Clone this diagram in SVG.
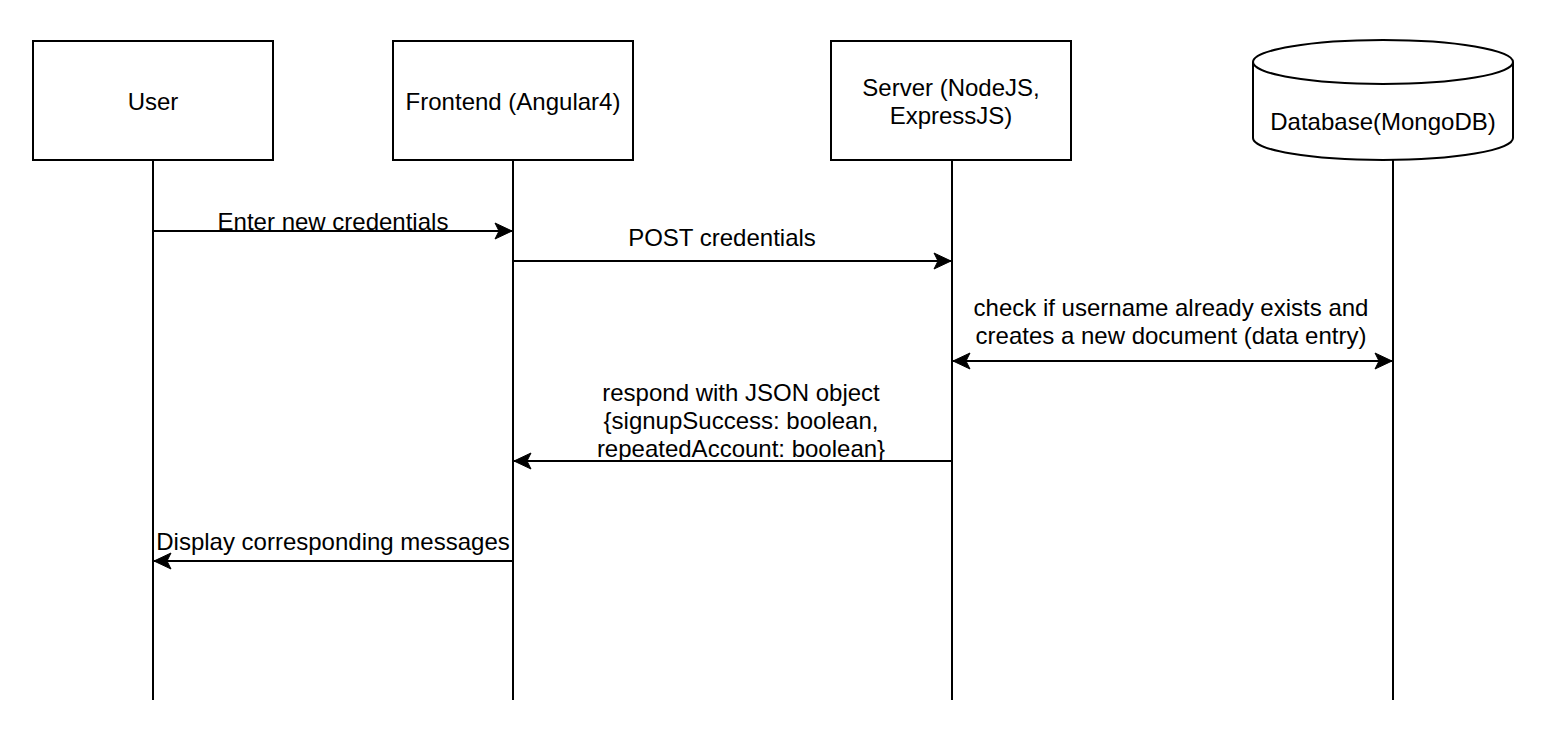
<svg xmlns="http://www.w3.org/2000/svg" width="1544" height="756" viewBox="0 0 1544 756">
<style>
.box{fill:#fff;stroke:#000;stroke-width:2}
.life{stroke:#000;stroke-width:2;fill:none}
.msg{stroke:#000;stroke-width:2;fill:none}
text{font-family:"Liberation Sans",Arial,Helvetica,sans-serif;font-size:24px;fill:#000;text-anchor:middle}
</style>
<defs>
<marker id="arr" viewBox="-18 -9 19 18" refX="0" refY="0" markerWidth="19" markerHeight="18" markerUnits="userSpaceOnUse" orient="auto-start-reverse">
<path d="M0,0 L-17,-8 L-13,0 L-17,8 Z" fill="#000" stroke="#000" stroke-width="1"/>
</marker>
</defs>
<rect width="1544" height="756" fill="#fff"/>
<g id="lifelines">
<line class="life" x1="153" y1="160" x2="153" y2="700"/>
<line class="life" x1="513" y1="160" x2="513" y2="700"/>
<line class="life" x1="952" y1="160" x2="952" y2="700"/>
<line class="life" x1="1393" y1="160" x2="1393" y2="700"/>
</g>
<g id="user">
<rect class="box" x="33" y="41" width="240" height="119"/>
<text x="153" y="110">User</text>
</g>
<g id="frontend">
<rect class="box" x="393" y="41" width="240" height="119"/>
<text x="513" y="110">Frontend (Angular4)</text>
</g>
<g id="server">
<rect class="box" x="831" y="41" width="240" height="119"/>
<text x="951" y="96">Server (NodeJS,</text>
<text x="951" y="124">ExpressJS)</text>
</g>
<g id="database">
<path class="box" d="M1253,62 A130,22 0 0 1 1513,62 L1513,138 A130,22 0 0 1 1253,138 Z"/>
<path class="box" fill="none" d="M1253,62 A130,22 0 0 0 1513,62"/>
<text x="1383" y="130">Database(MongoDB)</text>
</g>
<g id="connectors">
<line class="msg" x1="153" y1="231" x2="512" y2="231" marker-end="url(#arr)"/>
<line class="msg" x1="513" y1="261" x2="951" y2="261" marker-end="url(#arr)"/>
<line class="msg" x1="953" y1="361" x2="1392" y2="361" marker-start="url(#arr)" marker-end="url(#arr)"/>
<line class="msg" x1="952" y1="461" x2="514" y2="461" marker-end="url(#arr)"/>
<line class="msg" x1="513" y1="561" x2="154" y2="561" marker-end="url(#arr)"/>
</g>
<g id="labels">
<text x="333" y="230">Enter new credentials</text>
<text x="722" y="246">POST credentials</text>
<text x="1171" y="316">check if username already exists and</text>
<text x="1171" y="344">creates a new document (data entry)</text>
<text x="741" y="401">respond with JSON object</text>
<text x="741" y="429">{signupSuccess: boolean,</text>
<text x="741" y="457">repeatedAccount: boolean}</text>
<text x="333" y="550">Display corresponding messages</text>
</g>
</svg>
